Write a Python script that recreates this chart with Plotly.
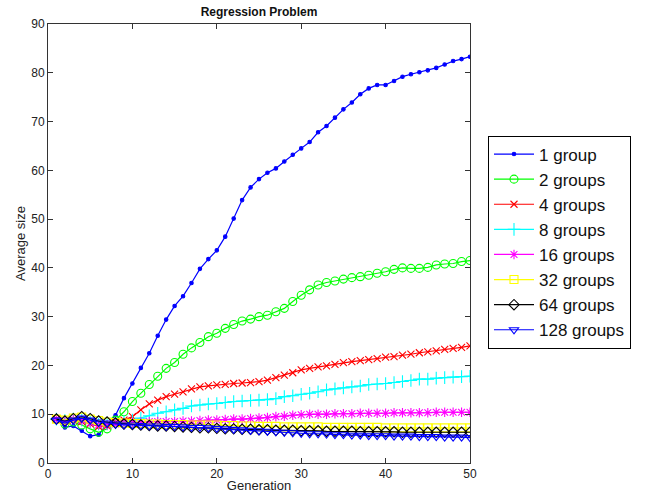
import plotly.graph_objects as go

generation = list(range(1, 51))

one_group = [9.0, 7.3, 7.6, 6.6, 5.5, 5.8, 7.8, 9.8, 13.3, 16.3,
             19.5, 22.5, 26.1, 29.4, 32.2, 34.2, 36.9, 39.8, 41.8, 43.6,
             46.4, 50.1, 53.9, 56.5, 58.2, 59.5, 60.4, 61.8, 63.2, 64.5,
             65.8, 67.8, 69.1, 70.8, 72.5, 73.9, 75.6, 76.8, 77.5, 77.5,
             78.3, 79.2, 79.7, 80.1, 80.5, 81.0, 81.7, 82.4, 82.8, 83.3]
two_groups = [9.0, 8.0, 8.4, 7.8, 7.0, 6.3, 7.0, 8.8, 10.5, 12.6,
              14.3, 16.1, 17.8, 19.4, 20.6, 22.3, 23.6, 24.7, 25.9, 26.6,
              27.6, 28.4, 29.1, 29.5, 30.0, 30.3, 31.0, 31.7, 33.1, 34.4,
              35.5, 36.5, 37.0, 37.3, 37.7, 38.0, 38.2, 38.5, 38.9, 39.2,
              39.7, 40.0, 39.9, 39.9, 40.1, 40.6, 40.8, 40.9, 41.3, 41.5]
four_groups = [9.0, 8.6, 8.8, 8.5, 8.0, 7.5, 7.6, 8.3, 8.8, 9.5,
               10.9, 12.1, 12.9, 13.6, 14.1, 14.6, 15.2, 15.6, 15.8, 16.0,
               16.1, 16.3, 16.4, 16.5, 16.7, 17.0, 17.5, 18.0, 18.5, 19.1,
               19.4, 19.7, 19.9, 20.2, 20.6, 20.8, 21.0, 21.2, 21.4, 21.7,
               21.8, 22.1, 22.3, 22.6, 22.8, 23.0, 23.3, 23.5, 23.7, 24.0]
eight_groups = [9.0, 8.7, 9.0, 8.8, 8.4, 8.0, 8.0, 8.2, 8.5, 8.8,
                9.2, 9.7, 10.2, 10.5, 10.9, 11.2, 11.7, 11.9, 12.1, 12.2,
                12.4, 12.6, 12.7, 12.8, 12.9, 13.0, 13.2, 13.6, 13.8, 14.1,
                14.3, 14.6, 15.0, 15.2, 15.4, 15.6, 15.8, 16.1, 16.2, 16.3,
                16.5, 16.7, 16.9, 17.2, 17.2, 17.4, 17.5, 17.6, 17.7, 17.8]
sixteen_groups = [9.0, 8.5, 8.9, 8.7, 8.2, 7.8, 7.8, 8.0, 8.2, 8.3,
                  8.4, 8.5, 8.5, 8.5, 8.5, 8.6, 8.6, 8.7, 8.8, 8.8,
                  8.9, 9.0, 9.0, 9.1, 9.2, 9.3, 9.5, 9.6, 9.8, 9.9,
                  10.0, 10.0, 10.0, 10.1, 10.1, 10.1, 10.2, 10.2, 10.2, 10.2,
                  10.3, 10.3, 10.3, 10.3, 10.3, 10.4, 10.4, 10.4, 10.4, 10.4]
thirtytwo_groups = [9.0, 8.8, 9.2, 9.4, 9.0, 8.7, 8.4, 8.3, 8.2, 8.1,
                    8.1, 8.0, 8.0, 7.9, 7.9, 7.9, 7.8, 7.8, 7.8, 7.8,
                    7.7, 7.7, 7.6, 7.6, 7.5, 7.5, 7.5, 7.4, 7.4, 7.4,
                    7.4, 7.4, 7.3, 7.3, 7.3, 7.3, 7.3, 7.3, 7.3, 7.2,
                    7.2, 7.2, 7.2, 7.2, 7.2, 7.2, 7.2, 7.2, 7.2, 7.2]
sixtyfour_groups = [9.0, 8.6, 9.1, 9.5, 9.1, 8.6, 8.4, 8.2, 8.0, 7.9,
                    7.8, 7.7, 7.6, 7.6, 7.5, 7.4, 7.3, 7.2, 7.2, 7.1,
                    7.0, 7.0, 6.9, 6.9, 6.8, 6.8, 6.7, 6.7, 6.7, 6.6,
                    6.6, 6.6, 6.5, 6.5, 6.5, 6.5, 6.4, 6.4, 6.4, 6.4,
                    6.4, 6.3, 6.3, 6.3, 6.3, 6.3, 6.3, 6.3, 6.3, 6.3]
one28_groups = [8.8, 8.2, 8.8, 9.2, 8.8, 8.4, 8.2, 8.0, 7.8, 7.8,
                7.7, 7.6, 7.6, 7.5, 7.5, 7.4, 7.3, 7.3, 7.2, 7.1,
                7.0, 6.9, 6.8, 6.7, 6.6, 6.5, 6.4, 6.3, 6.2, 6.1,
                6.0, 6.0, 5.9, 5.8, 5.8, 5.7, 5.7, 5.6, 5.6, 5.6,
                5.5, 5.5, 5.5, 5.4, 5.4, 5.4, 5.3, 5.3, 5.3, 5.2]

series_names = ["1 group", "2 groups", "4 groups", "8 groups",
                "16 groups", "32 groups", "64 groups", "128 groups"]
series_values = [one_group, two_groups, four_groups, eight_groups,
                 sixteen_groups, thirtytwo_groups, sixtyfour_groups, one28_groups]
colors = ["#0000FF", "#00FF00", "#FF0000", "#00FFFF",
          "#FF00FF", "#FFFF00", "#000000", "#0000FF"]
symbols = ["circle", "circle-open", "x-thin-open", "cross-thin-open",
           "asterisk-open", "square-open", "diamond-open", "triangle-down-open"]
sizes = [3.5, 8, 7, 9, 8, 8, 8, 8]

x_ticks = [0, 10, 20, 30, 40, 50]
y_ticks = [0, 10, 20, 30, 40, 50, 60, 70, 80, 90]

fig = go.Figure()
for name, vals, col, sym, sz in zip(series_names, series_values, colors, symbols, sizes):
    fig.add_trace(go.Scatter(
        x=generation, y=vals, name=name, mode="lines+markers",
        line=dict(color=col, width=1.2),
        marker=dict(symbol=sym, size=sz, color=col,
                    line=dict(color=col, width=1.1)),
    ))

font_family = "Liberation Sans, Arial, Helvetica, sans-serif"
axis_common = dict(showline=True, linecolor="#333333", linewidth=1, mirror="ticks",
                   ticks="inside", ticklen=5, tickcolor="#333333", showgrid=False,
                   zeroline=False, automargin=False,
                   tickfont=dict(size=12, color="#222222", family=font_family))

L, R, T, B = 48, 470, 24, 463
W, H = 652, 495

fig.update_layout(
    width=W, height=H,
    margin=dict(l=L, r=W - R, t=T, b=H - B, autoexpand=False),
    paper_bgcolor="white", plot_bgcolor="white",
    title=dict(text="<b>Regression Problem</b>", x=(L + R) / 2 / W, xanchor="center",
               y=1 - 12 / H, yanchor="middle",
               font=dict(size=12, color="#111111", family=font_family)),
    xaxis=dict(range=[0, 50], tickvals=x_ticks,
               title=dict(text="Generation", standoff=0,
                          font=dict(size=13, color="#222222", family=font_family)),
               **axis_common),
    yaxis=dict(range=[0, 90], tickvals=y_ticks,
               title=dict(text="Average size", standoff=2,
                          font=dict(size=13, color="#222222", family=font_family)),
               **axis_common),
    legend=dict(x=(488 - L) / (R - L), y=(B - 242) / (B - T), xanchor="left", yanchor="middle",
                bgcolor="white", bordercolor="#000000", borderwidth=1,
                font=dict(size=17, color="#111111", family=font_family),
                tracegroupgap=0, itemwidth=40),
    showlegend=True,
)

fig.write_html("out.html", config={"displayModeBar": False},
               post_script="document.body.style.margin='0';")
